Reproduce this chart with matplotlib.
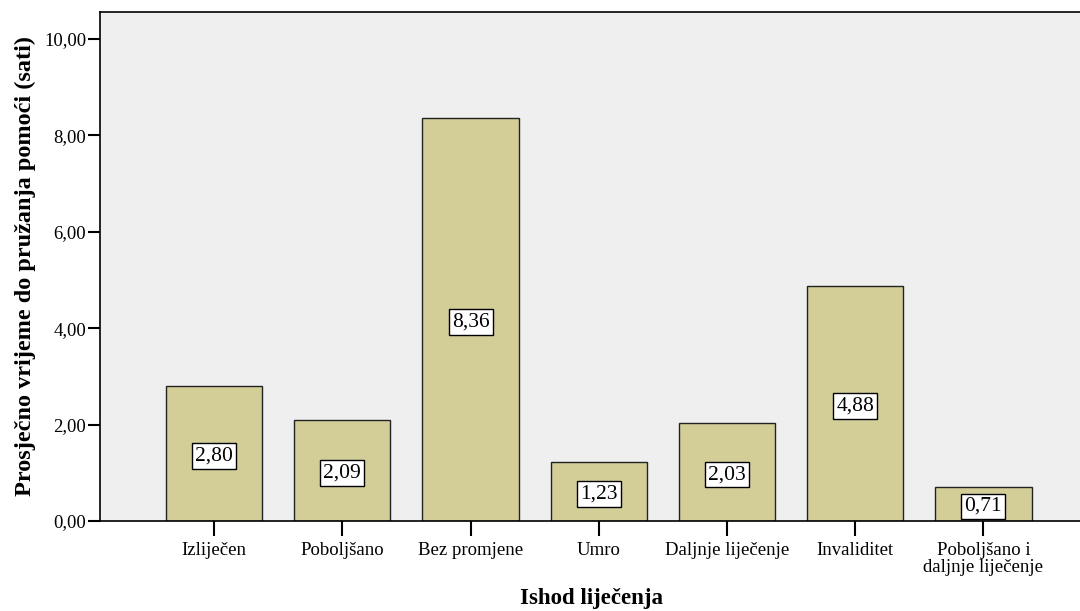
import matplotlib
matplotlib.use("Agg")
import matplotlib.pyplot as plt
from matplotlib.ticker import FuncFormatter, MultipleLocator

categories = ["Izliječen", "Poboljšano", "Bez promjene", "Umro",
              "Daljnje liječenje", "Invaliditet", "Poboljšano i\ndaljnje liječenje"]
values = [2.80, 2.09, 8.36, 1.23, 2.03, 4.88, 0.71]

plt.rcParams["font.family"] = ["Liberation Serif", "DejaVu Serif"]

fig = plt.figure(figsize=(10.8, 6.11), dpi=100)
ax = fig.add_axes([100 / 1080, 90 / 611, 1 - 100 / 1080 + 0.002, 509 / 611])
ax.set_facecolor("#EFEFEF")

x = range(len(categories))
ax.bar(x, values, width=0.75, color="#D3CE98", edgecolor="#222222", linewidth=1.0, zorder=2)

for i, v in zip(x, values):
    ax.text(i, v / 2, f"{v:.2f}".replace(".", ","), ha="center", va="center_baseline",
            fontsize=15.5, zorder=3,
            bbox=dict(boxstyle="square,pad=0.15", facecolor="white",
                      edgecolor="black", linewidth=1.0))

ax.set_xlim(-0.89, 6.77)
ax.set_ylim(0, 10.56)
ax.yaxis.set_major_locator(MultipleLocator(2))
ax.yaxis.set_major_formatter(FuncFormatter(lambda v, p: f"{v:.2f}".replace(".", ",")))
ax.set_xticks(list(x))
ax.set_xticklabels(categories, fontsize=13.5, linespacing=1.0)
ax.tick_params(axis="y", labelsize=13.5, length=9, width=1.5, direction="out", pad=1)
ax.tick_params(axis="x", length=11, width=1.5, direction="out", pad=4)

for s in ["left", "bottom", "top"]:
    ax.spines[s].set_linewidth(1.2)
ax.spines["right"].set_visible(False)

ax.set_ylabel("Prosječno vrijeme do pružanja pomoći (sati)", fontsize=17.5,
              fontweight="bold", labelpad=6)
ax.set_xlabel("Ishod liječenja", fontsize=16.5, fontweight="bold", labelpad=9)

fig.savefig("out.png", dpi=100)
